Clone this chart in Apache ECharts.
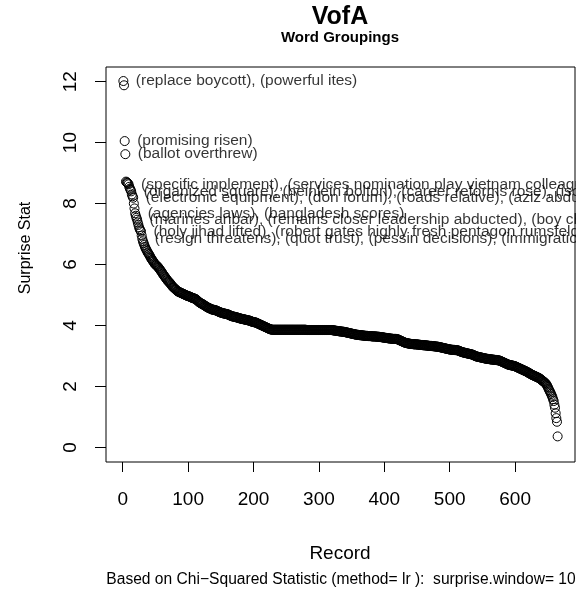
<!DOCTYPE html>
<html><head><meta charset="utf-8">
<script src="https://cdn.jsdelivr.net/npm/echarts@6/dist/echarts.min.js"></script>
<style>html,body{margin:0;padding:0;background:#fff}#c{width:576px;height:589px}</style>
</head><body><div id="c"></div>
<script>
// Surprise statistic per record (records 1..665)
const surprise = [
12.02,11.88,10.05,9.62,8.72,8.70,8.68,8.66,8.63,8.55,
8.49,8.45,8.40,8.30,8.24,8.19,8.00,7.84,7.68,7.60,
7.53,7.47,7.38,7.30,7.22,7.16,7.12,7.08,6.95,6.84,
6.76,6.70,6.64,6.58,6.53,6.49,6.45,6.40,6.37,6.34,
6.30,6.26,6.22,6.18,6.15,6.12,6.09,6.05,6.02,6.00,
5.98,5.96,5.94,5.92,5.89,5.86,5.83,5.80,5.77,5.74,
5.70,5.67,5.64,5.61,5.58,5.55,5.52,5.49,5.46,5.44,
5.42,5.40,5.37,5.34,5.31,5.28,5.26,5.24,5.22,5.20,
5.18,5.16,5.14,5.12,5.11,5.10,5.09,5.08,5.07,5.06,
5.05,5.04,5.03,5.02,5.01,5.00,4.99,4.98,4.97,4.96,
4.96,4.95,4.94,4.93,4.92,4.91,4.90,4.89,4.89,4.88,
4.87,4.86,4.84,4.82,4.80,4.78,4.76,4.75,4.73,4.72,
4.71,4.70,4.69,4.67,4.66,4.64,4.63,4.62,4.60,4.59,
4.58,4.57,4.56,4.55,4.54,4.53,4.52,4.52,4.51,4.51,
4.50,4.50,4.49,4.48,4.47,4.46,4.45,4.44,4.43,4.42,
4.42,4.41,4.40,4.40,4.39,4.39,4.38,4.38,4.37,4.37,
4.36,4.35,4.34,4.33,4.32,4.31,4.30,4.30,4.29,4.29,
4.28,4.28,4.27,4.27,4.26,4.25,4.25,4.24,4.23,4.23,
4.22,4.22,4.21,4.21,4.20,4.20,4.19,4.19,4.18,4.18,
4.17,4.17,4.16,4.16,4.15,4.14,4.13,4.12,4.12,4.11,
4.11,4.10,4.10,4.09,4.08,4.07,4.06,4.05,4.04,4.03,
4.02,4.01,4.00,3.99,3.98,3.97,3.96,3.95,3.94,3.93,
3.92,3.91,3.90,3.89,3.88,3.87,3.87,3.86,3.86,3.86,
3.86,3.86,3.86,3.86,3.86,3.86,3.86,3.86,3.86,3.86,
3.86,3.86,3.86,3.86,3.86,3.86,3.86,3.86,3.86,3.86,
3.86,3.86,3.86,3.86,3.86,3.86,3.86,3.86,3.86,3.86,
3.86,3.86,3.86,3.86,3.86,3.86,3.86,3.86,3.86,3.86,
3.86,3.86,3.86,3.86,3.86,3.86,3.86,3.86,3.86,3.86,
3.85,3.85,3.85,3.85,3.85,3.85,3.85,3.85,3.85,3.85,
3.85,3.85,3.85,3.85,3.85,3.85,3.85,3.85,3.85,3.85,
3.85,3.85,3.85,3.85,3.85,3.85,3.85,3.85,3.85,3.85,
3.85,3.85,3.85,3.85,3.85,3.85,3.85,3.85,3.85,3.85,
3.84,3.84,3.84,3.83,3.83,3.83,3.82,3.82,3.82,3.81,
3.81,3.81,3.80,3.80,3.80,3.80,3.79,3.79,3.79,3.78,
3.78,3.77,3.77,3.76,3.76,3.75,3.75,3.74,3.74,3.73,
3.73,3.72,3.72,3.71,3.71,3.70,3.70,3.70,3.69,3.69,
3.69,3.68,3.68,3.68,3.68,3.67,3.67,3.67,3.67,3.66,
3.66,3.66,3.66,3.66,3.65,3.65,3.65,3.65,3.65,3.65,
3.64,3.64,3.64,3.64,3.64,3.64,3.64,3.63,3.63,3.63,
3.63,3.63,3.62,3.62,3.62,3.61,3.61,3.61,3.60,3.60,
3.60,3.59,3.59,3.59,3.58,3.58,3.58,3.57,3.57,3.57,
3.57,3.56,3.56,3.56,3.56,3.56,3.56,3.56,3.55,3.55,
3.54,3.53,3.52,3.51,3.50,3.49,3.48,3.47,3.46,3.45,
3.44,3.43,3.43,3.42,3.42,3.41,3.41,3.40,3.40,3.40,
3.39,3.39,3.39,3.39,3.38,3.38,3.38,3.38,3.38,3.38,
3.37,3.37,3.37,3.37,3.36,3.36,3.36,3.36,3.35,3.35,
3.35,3.35,3.35,3.34,3.34,3.34,3.34,3.33,3.33,3.33,
3.33,3.33,3.32,3.32,3.32,3.32,3.31,3.31,3.31,3.31,
3.30,3.30,3.30,3.29,3.29,3.28,3.28,3.27,3.27,3.26,
3.26,3.25,3.25,3.24,3.24,3.23,3.23,3.22,3.22,3.21,
3.21,3.21,3.20,3.20,3.20,3.20,3.20,3.19,3.19,3.19,
3.19,3.18,3.18,3.17,3.16,3.15,3.14,3.13,3.13,3.12,
3.11,3.11,3.10,3.10,3.09,3.09,3.08,3.08,3.07,3.07,
3.06,3.06,3.05,3.05,3.04,3.03,3.02,3.01,3.00,2.99,
2.98,2.98,2.97,2.97,2.96,2.96,2.95,2.95,2.94,2.94,
2.93,2.93,2.92,2.92,2.91,2.91,2.91,2.90,2.90,2.90,
2.89,2.89,2.89,2.88,2.88,2.88,2.88,2.87,2.87,2.87,
2.87,2.86,2.86,2.86,2.85,2.85,2.84,2.83,2.82,2.81,
2.80,2.79,2.78,2.77,2.76,2.75,2.74,2.73,2.72,2.71,
2.71,2.70,2.70,2.69,2.69,2.68,2.68,2.67,2.67,2.66,
2.65,2.64,2.63,2.62,2.61,2.60,2.59,2.58,2.57,2.56,
2.55,2.54,2.53,2.52,2.51,2.50,2.49,2.48,2.47,2.45,
2.44,2.43,2.42,2.40,2.39,2.38,2.37,2.36,2.35,2.34,
2.33,2.32,2.31,2.30,2.29,2.28,2.27,2.25,2.24,2.22,
2.20,2.18,2.17,2.15,2.13,2.11,2.09,2.06,2.02,1.98,
1.93,1.88,1.84,1.80,1.75,1.70,1.65,1.58,1.52,1.40,
1.30,1.12,0.96,0.84,0.36
];

const xTicks = [0, 100, 200, 300, 400, 500, 600];
const yTicks = [0, 2, 4, 6, 8, 10, 12];

// records carrying a word-grouping annotation (1-based record number)
const labelRecords = [1, 3, 4, 9, 13, 16, 19, 22, 28, 30];
const labelTexts = [
  '(replace boycott), (powerful ites)',
  '(promising risen)',
  '(ballot overthrew)',
  '(specific implement), (services nomination play vietnam colleagues)',
  '(organized square), (heinlein bolton), (career reforms rose), (isolated)',
  '(electronic equipment), (don forum), (roads relative), (aziz abdul)',
  '(agencies laws), (bangladesh scores)',
  '(marines anbar), (remains closer leadership abducted), (boy charged)',
  '(holy jihad lifted), (robert gates highly fresh pentagon rumsfeld)',
  '(resign threatens), (quot trust), (pessin decisions), (immigration)'
];

const titleText = 'VofA';
const subtitleText = 'Word Groupings';
const xName = 'Record';
const yName = 'Surprise Stat';
const captionText = 'Based on Chi\u2212Squared Statistic (method= lr ):  surprise.window= 10';

const FONT = '"Liberation Sans", Arial, Helvetica, sans-serif';
const nRec = surprise.length;

const chart = echarts.init(document.getElementById('c'), null, {renderer: 'canvas'});
chart.setOption({
  animation: false,
  backgroundColor: '#fff',
  textStyle: {fontFamily: FONT, color: '#000'},
  grid: {left: 106, right: 1, top: 67, bottom: 127, show: true, borderColor: '#000', borderWidth: 1, containLabel: false},
  xAxis: {
    type: 'value',
    min: 1 - 0.04 * (nRec - 1),
    max: nRec + 0.04 * (nRec - 1),
    splitLine: {show: false},
    axisLine: {show: false, onZero: false},
    axisTick: {show: true, length: 10, lineStyle: {color: '#000', width: 1}, customValues: xTicks},
    axisLabel: {show: true, customValues: xTicks, fontSize: 19, color: '#000', fontFamily: FONT, margin: 28,
      showMinLabel: true, showMaxLabel: true}
  },
  yAxis: {
    type: 'value',
    min: -0.48,
    max: 12.48,
    splitLine: {show: false},
    axisLine: {show: false, onZero: false},
    axisTick: {show: true, length: 11, lineStyle: {color: '#000', width: 1}, customValues: yTicks},
    axisLabel: {show: true, customValues: yTicks, fontSize: 19, color: '#000', fontFamily: FONT, margin: 26, rotate: 90,
      showMinLabel: true, showMaxLabel: true}
  },
  series: [
    {
      type: 'scatter',
      symbol: 'circle',
      symbolSize: 9,
      data: surprise.map((v, i) => [i + 1, v]),
      itemStyle: {color: 'rgba(0,0,0,0)', borderColor: '#000', borderWidth: 1, opacity: 1},
      emphasis: {disabled: true},
      silent: true,
      large: false,
      progressive: 0
    },
    {
      type: 'scatter',
      symbol: 'circle',
      symbolSize: 1,
      itemStyle: {color: 'rgba(0,0,0,0)'},
      data: labelRecords.map((r, j) => ({name: labelTexts[j], value: [r, surprise[r - 1]]})),
      label: {show: true, position: 'right', distance: 12, formatter: p => p.name,
        fontSize: 15.5, fontFamily: FONT, color: '#000'},
      labelLayout: {hideOverlap: false},
      emphasis: {disabled: true},
      silent: true,
      z: 5
    }
  ],
  graphic: [
    {type: 'text', x: 340, y: 17, style: {text: titleText, font: 'bold 25px ' + FONT, fill: '#000', align: 'center', verticalAlign: 'middle'}},
    {type: 'text', x: 340, y: 38, style: {text: subtitleText, font: 'bold 15px ' + FONT, fill: '#000', align: 'center', verticalAlign: 'middle'}},
    {type: 'text', x: 340, y: 554, style: {text: xName, font: '19px ' + FONT, fill: '#000', align: 'center', verticalAlign: 'middle'}},
    {type: 'text', x: 26, y: 248, rotation: Math.PI / 2, style: {text: yName, font: '16px ' + FONT, fill: '#000', align: 'center', verticalAlign: 'middle'}},
    {type: 'text', x: 341, y: 580, style: {text: captionText, font: '15.6px ' + FONT, fill: '#000', align: 'center', verticalAlign: 'middle'}}
  ]
});
</script>
</body></html>
